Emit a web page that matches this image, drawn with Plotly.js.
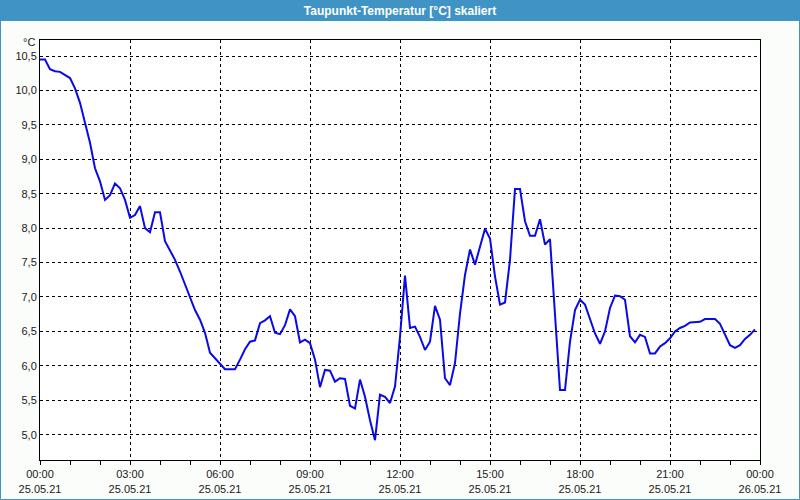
<!DOCTYPE html>
<html>
<head>
<meta charset="utf-8">
<script src="https://cdn.plot.ly/plotly-3.0.1.min.js"></script>
<style>
html,body{margin:0;padding:0;background:#fbfdfb;}
#chart{width:800px;height:500px;}
</style>
</head>
<body>
<div id="chart"></div>
<script>
// ---- data ----
const startTime = '2021-05-25 00:00';
const stepMinutes = 10;
const dewPoint = [
  10.45,10.45,10.31,10.28,10.27,10.23,10.18,10.03,9.82,9.53,9.24,8.87,
  8.68,8.41,8.48,8.65,8.58,8.41,8.15,8.19,8.32,8.00,7.94,8.23,
  8.23,7.81,7.68,7.54,7.37,7.18,6.98,6.81,6.67,6.48,6.19,6.11,
  6.03,5.95,5.95,5.95,6.09,6.24,6.35,6.37,6.62,6.66,6.72,6.48,
  6.46,6.59,6.82,6.72,6.34,6.38,6.33,6.09,5.69,5.94,5.93,5.77,
  5.82,5.81,5.42,5.38,5.80,5.55,5.21,4.92,5.58,5.55,5.46,5.70,
  6.42,7.31,6.55,6.57,6.42,6.23,6.35,6.87,6.67,5.82,5.72,6.04,
  6.76,7.32,7.69,7.47,7.73,7.99,7.85,7.30,6.89,6.92,7.54,8.57,
  8.57,8.10,7.89,7.89,8.13,7.76,7.84,6.67,5.65,5.65,6.35,6.81,
  6.96,6.89,6.67,6.47,6.32,6.50,6.84,7.02,7.01,6.96,6.43,6.34,
  6.45,6.42,6.18,6.18,6.28,6.33,6.40,6.50,6.55,6.58,6.63,6.63,
  6.64,6.68,6.68,6.68,6.61,6.45,6.30,6.26,6.30,6.39,6.45,6.53
];
const xTickVals = ['2021-05-25 00:00','2021-05-25 03:00','2021-05-25 06:00','2021-05-25 09:00','2021-05-25 12:00','2021-05-25 15:00','2021-05-25 18:00','2021-05-25 21:00','2021-05-26 00:00'];
const xTickText = ['00:00<br>25.05.21','03:00<br>25.05.21','06:00<br>25.05.21','09:00<br>25.05.21','12:00<br>25.05.21','15:00<br>25.05.21','18:00<br>25.05.21','21:00<br>25.05.21','00:00<br>26.05.21'];
const yTickVals = [5.0,5.5,6.0,6.5,7.0,7.5,8.0,8.5,9.0,9.5,10.0,10.5];
const yTickText = ['5,0','5,5','6,0','6,5','7,0','7,5','8,0','8,5','9,0','9,5','10,0','10,5'];
const titleText = 'Taupunkt-Temperatur [°C] skaliert';
const unitText = '°C';

// timestamps for the regular 10-minute samples
function pad(n){return (n<10?'0':'')+n;}
const t0 = new Date(startTime.replace(' ','T')+':00');
const times = dewPoint.map((_, i) => {
  const d = new Date(t0.getTime() + i*stepMinutes*60000);
  return d.getFullYear()+'-'+pad(d.getMonth()+1)+'-'+pad(d.getDate())+' '+pad(d.getHours())+':'+pad(d.getMinutes());
});

// ---- layout geometry ----
const W = 800, H = 500, L = 40, R = 40, T = 40, B = 40;
const pw = W - L - R, ph = H - T - B;
const px = x => (x - L) / pw;
const py = y => (H - B - y) / ph;
const blue = '#3f93c5';
const font = 'Liberation Sans, Arial, sans-serif';

const trace = {
  x: times, y: dewPoint, type: 'scatter', mode: 'lines',
  line: {color: '#0a0ae8', width: 2}, hoverinfo: 'skip'
};

const layout = {
  width: W, height: H,
  margin: {l: L, r: R, t: T, b: B, pad: 0},
  paper_bgcolor: '#fbfdfb', plot_bgcolor: '#ffffff',
  showlegend: false,
  font: {family: font, size: 11, color: '#1a1a1a'},
  title: {text: titleText, font: {family: font, size: 12, color: '#ffffff', weight: 'bold'},
          x: 0.5, xanchor: 'center', xref: 'container', y: 1 - 10.5/H, yanchor: 'middle', yref: 'container'},
  xaxis: {
    type: 'date', range: ['2021-05-25 00:00', '2021-05-26 00:00'],
    tickvals: xTickVals, ticktext: xTickText,
    ticks: 'outside', ticklen: 4, tickcolor: '#000', tickwidth: 1,
    showgrid: true, gridcolor: '#000', griddash: '3px,3px', gridwidth: 1,
    showline: true, linecolor: '#000', linewidth: 1, mirror: true,
    zeroline: false, tickangle: 0,
    minor: {dtick: 3600000, ticks: 'outside', ticklen: 4, tickcolor: '#000', showgrid: false},
    tickfont: {family: font, size: 11, color: '#1a1a1a'}
  },
  yaxis: {
    range: [4.632, 10.733],
    tickvals: yTickVals, ticktext: yTickText,
    ticks: '', showgrid: true, gridcolor: '#000', griddash: '3px,3px', gridwidth: 1,
    showline: true, linecolor: '#000', linewidth: 1, mirror: true, zeroline: false,
    ticklabelstandoff: 0,
    tickfont: {family: font, size: 11, color: '#1a1a1a'}
  },
  shapes: [
    {type: 'rect', xref: 'paper', yref: 'paper', x0: px(0), x1: px(W), y0: py(21), y1: py(0),
     fillcolor: blue, line: {width: 0}, layer: 'above'},
    {type: 'rect', xref: 'paper', yref: 'paper', x0: px(0.5), x1: px(W-0.5), y0: py(H-0.5), y1: py(0.5),
     fillcolor: 'rgba(0,0,0,0)', line: {color: blue, width: 1}, layer: 'above'}
  ],
  annotations: [
    {text: unitText, xref: 'paper', yref: 'paper', x: px(37), y: py(50), xanchor: 'right', yanchor: 'bottom',
     showarrow: false, font: {family: font, size: 11, color: '#1a1a1a'}}
  ]
};

Plotly.newPlot('chart', [trace], layout, {displayModeBar: false, staticPlot: true});
</script>
</body>
</html>
